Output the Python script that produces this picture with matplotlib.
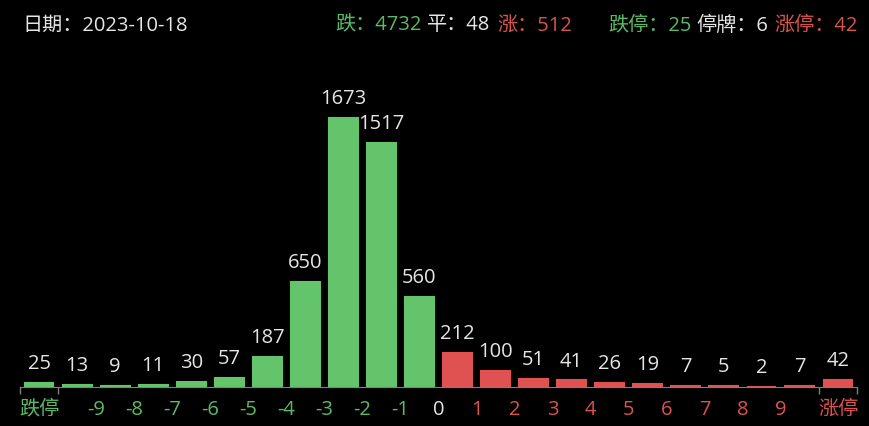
import matplotlib
matplotlib.use("Agg")
import matplotlib.pyplot as plt
from matplotlib.ticker import FixedLocator

# 数字用 Open Sans，汉字回落到 Noto Sans CJK SC
plt.rcParams['font.family'] = ['Open Sans', 'Noto Sans CJK SC', 'DejaVu Sans']

# 数据
categories = ['跌停', '-10~-9', '-9~-8', '-8~-7', '-7~-6', '-6~-5', '-5~-4', '-4~-3',
              '-3~-2', '-2~-1', '-1~0', '0~1', '1~2', '2~3', '3~4', '4~5', '5~6',
              '6~7', '7~8', '8~9', '9~10', '涨停']
counts = [25, 13, 9, 11, 30, 57, 187, 650, 1673, 1517, 560,
          212, 100, 51, 41, 26, 19, 7, 5, 2, 7, 42]
tick_labels = ['跌停', '-9', '-8', '-7', '-6', '-5', '-4', '-3', '-2', '-1', '0',
               '1', '2', '3', '4', '5', '6', '7', '8', '9', '涨停']
tick_pos = [0] + [i + 0.5 for i in range(1, 20)] + [21]

date_str = '2023-10-18'
n_down, n_flat, n_up = 4732, 48, 512
n_limit_down, n_halt, n_limit_up = 25, 6, 42

GREEN = '#63c46c'
RED = '#e05252'
TXT_GREEN = '#5cba66'
TXT_RED = '#d9534f'
WHITE = '#e6e6e6'
BG = '#000000'
FS = 14.5

fig = plt.figure(figsize=(8.7, 4.26), dpi=100, facecolor=BG)
W, H = 870, 426
ax = fig.add_axes([20 / W, 39 / H, 837 / W, 322 / H], facecolor=BG)

x = list(range(len(categories)))
colors = [GREEN] * 11 + [RED] * 11
# 细边让很小的柱子也能看见
ax.bar(x, counts, width=0.76, color=colors, edgecolor=colors, linewidth=1.5, zorder=2)
ax.set_xlim(-0.5, len(categories) - 0.5)
ax.set_ylim(0, 2000)

for xi, v in zip(x, counts):
    ax.annotate(str(v), (xi, v), xytext=(0, 10), textcoords='offset points',
                ha='center', va='baseline', color=WHITE, fontsize=FS)

for s in ['top', 'right', 'left']:
    ax.spines[s].set_visible(False)
ax.spines['bottom'].set_color('#808080')
ax.spines['bottom'].set_zorder(3)
ax.set_yticks([])

# 分界刻度
ax.xaxis.set_minor_locator(FixedLocator([i - 0.5 for i in range(len(categories) + 1)]))
ax.tick_params(axis='x', which='minor', length=5, color='#808080', width=1)
ax.set_xticks(tick_pos)
ax.set_xticklabels(tick_labels, fontsize=FS)
ax.tick_params(axis='x', which='major', length=0, pad=20)
for lbl in ax.get_xticklabels():
    lbl.set_va('baseline')
    t = lbl.get_text()
    if t == '0':
        lbl.set_color(WHITE)
    elif t == '跌停' or t.startswith('-'):
        lbl.set_color(TXT_GREEN)
    else:
        lbl.set_color(TXT_RED)

# 顶部信息（各段右对齐）
yb = 1 - 30.5 / H
fig.text(22 / W, yb, f'日期：{date_str}', color=WHITE, fontsize=FS, va='baseline')
header = [
    (f'跌：{n_down}', TXT_GREEN, 422),
    (f'平：{n_flat}', WHITE, 490),
    (f'涨：{n_up}', TXT_RED, 572),
    (f'跌停：{n_limit_down}', TXT_GREEN, 692),
    (f'停牌：{n_halt}', WHITE, 768),
    (f'涨停：{n_limit_up}', TXT_RED, 858),
]
for txt, c, right in header:
    fig.text(right / W, yb, txt, color=c, fontsize=FS, va='baseline', ha='right')

fig.savefig('out.png', dpi=100, facecolor=BG)
